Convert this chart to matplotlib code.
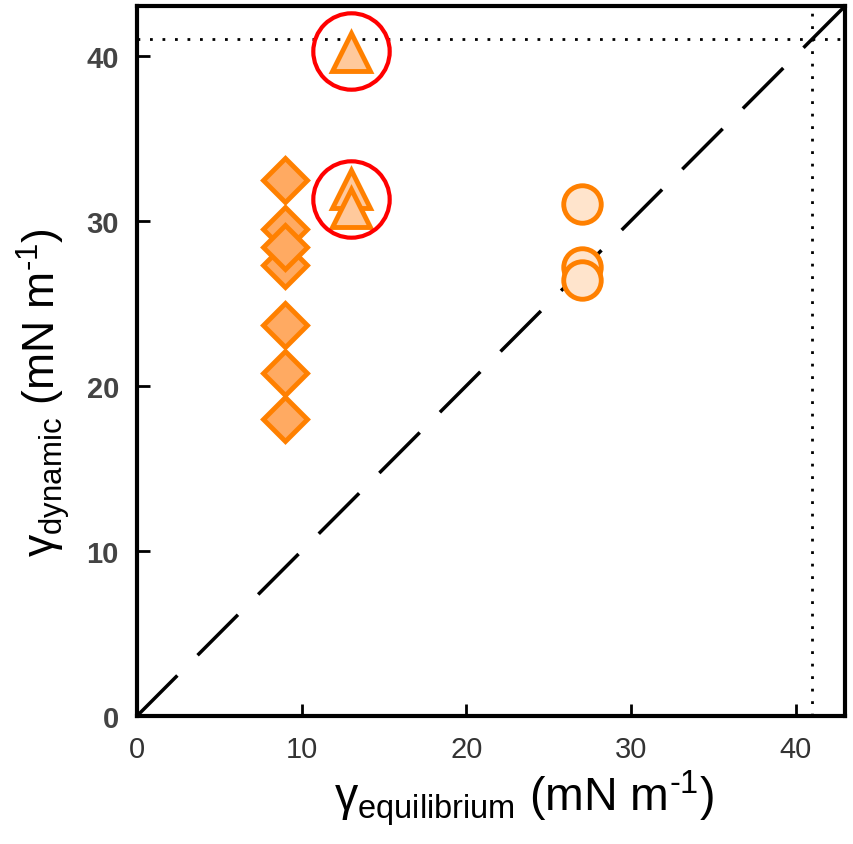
import numpy as np
import matplotlib.pyplot as plt

# surface tension data (mN/m)
diamond_x = [9, 9, 9, 9, 9, 9, 9]
diamond_y = [32.5, 29.5, 27.3, 28.4, 23.7, 20.8, 18.0]
triangle_x = [13, 13, 13]
triangle_y = [40.2, 31.9, 30.8]
circle_x = [27, 27, 27]
circle_y = [31.0, 27.2, 26.4]
# highlighted points (red rings)
ring_x = [13, 13]
ring_y = [40.3, 31.3]
limit = 41
ticks = [0, 10, 20, 30, 40]
tick_labels = ['0', '10', '20', '30', '40']

plt.rcParams['font.family'] = ['Liberation Sans', 'DejaVu Sans']
plt.rcParams['mathtext.fontset'] = 'custom'
plt.rcParams['mathtext.rm'] = 'Liberation Sans'
plt.rcParams['mathtext.it'] = 'Liberation Sans'

fig = plt.figure(figsize=(8.54, 8.45), dpi=100)
ax = fig.add_axes([0.1604, 0.1515, 0.829, 0.840])

# y = x reference line, dash period chosen so both ends start on a dash
ax.plot([0, 43], [0, 43], color='black', lw=2.5, dashes=(16.47, 8.24), zorder=1)
ax.axhline(limit, color='black', lw=2, linestyle=(0, (1, 3.5)), zorder=1)
ax.axvline(limit, color='black', lw=2, linestyle=(0, (1, 3.5)), zorder=1)

orange = '#FF8000'
for x, y in zip(diamond_x, diamond_y):
    ax.plot(x, y, marker='D', ms=22, mfc='#FFAA62', mec=orange, mew=3.5, zorder=3)
for x, y in zip(triangle_x, triangle_y):
    ax.plot(x, y, marker='^', ms=28, mfc='#FFC99C', mec=orange, mew=3.5, zorder=3)
for x, y in zip(circle_x, circle_y):
    ax.plot(x, y, marker='o', ms=27, mfc='#FFE4CC', mec=orange, mew=3.5, zorder=3)
ax.plot(ring_x, ring_y, marker='o', ls='none', ms=55, mfc='none', mec='#FF0000', mew=3, zorder=4)

ax.set_xlim(0, 43)
ax.set_ylim(0, 43)
ax.set_xticks(ticks)
ax.set_xticklabels(tick_labels, fontsize=21, color='#333333')
ax.set_yticks(ticks)
ax.set_yticklabels(tick_labels, fontsize=21, color='#444444', fontweight='bold')
ax.tick_params(direction='in', length=9, width=2)
ax.tick_params(axis='x', pad=14)
ax.tick_params(axis='y', pad=13)
for s in ax.spines.values():
    s.set_linewidth(3)

ax.set_xlabel(r'γ$_{\mathrm{equilibrium}}$ (mN m$^{\text{-1}}$)', fontsize=33.5)
ax.xaxis.set_label_coords(0.546, -0.072)
ax.set_ylabel(r'γ$_{\mathrm{dynamic}}$ (mN m$^{\text{-1}}$)', fontsize=32)
ax.yaxis.set_label_coords(-0.092, 0.457)

fig.savefig('out.png', dpi=100)
